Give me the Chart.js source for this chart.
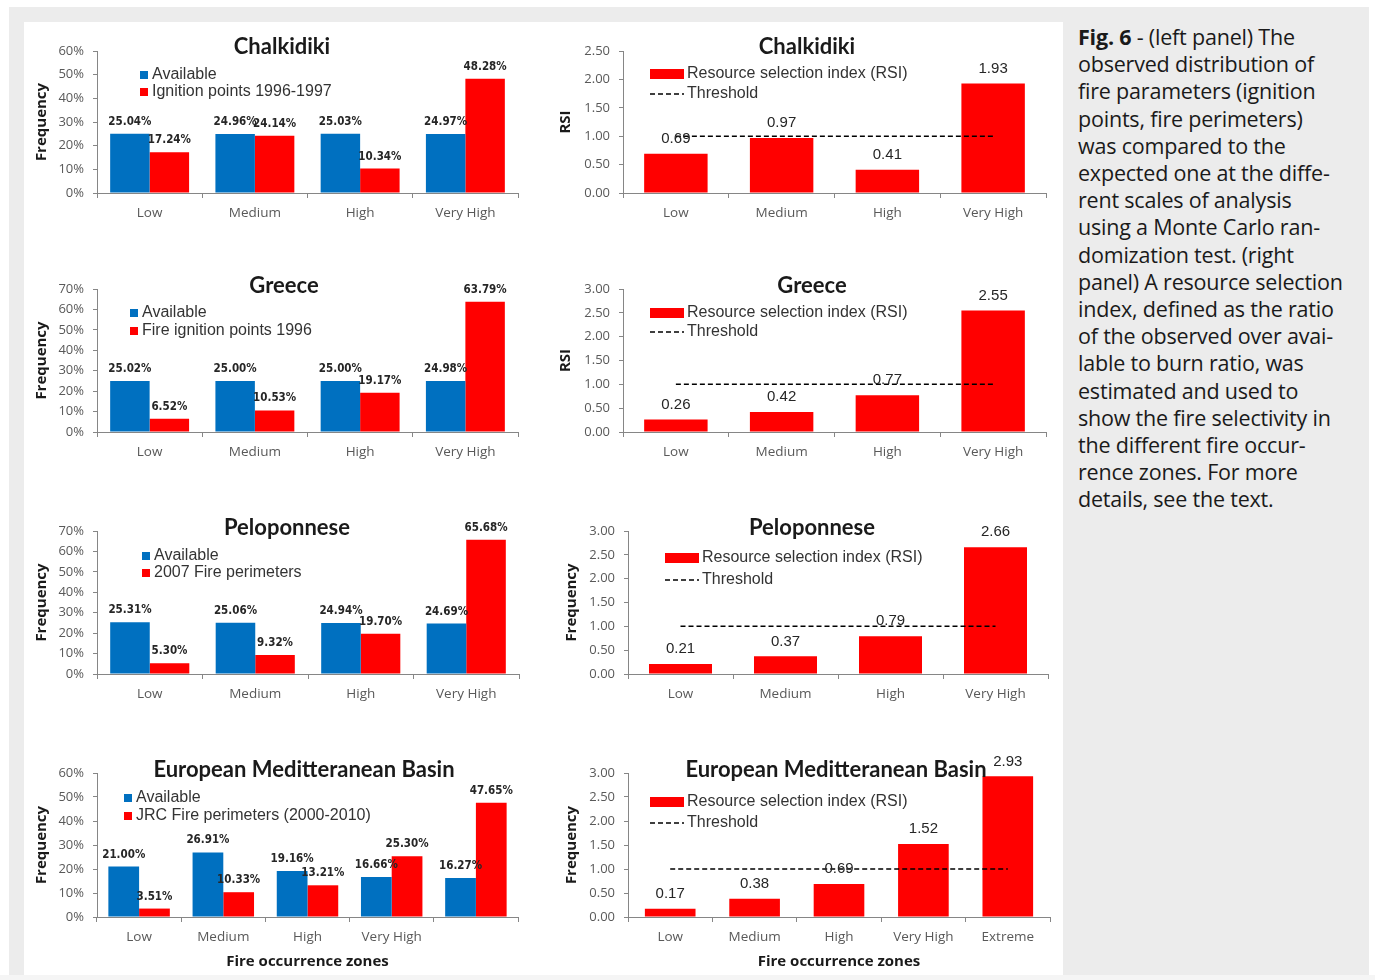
<!DOCTYPE html>
<html>
<head>
<meta charset="utf-8">
<script src="https://cdn.jsdelivr.net/npm/chart.js@4.4.1/dist/chart.umd.min.js"></script>
<style>
  body { margin: 0; width: 1375px; height: 980px; position: relative; overflow: hidden; background: #fff; }
  #frame { position: absolute; left: 9px; top: 7px; width: 1360px; height: 968px; background: #ececec; }
  #bottom { position: absolute; left: 0; top: 975px; width: 1375px; height: 5px; background: #f5f5f5; }
  #panel { position: absolute; left: 24px; top: 22px; width: 1039px; height: 953px; background: #fff; }
  canvas { position: absolute; }
  #caption { position: absolute; left: 1078px; top: 23px; font: 21.5px "Open Sans", sans-serif; line-height: 27.2px; color: #1a1a1a; white-space: nowrap; letter-spacing: -0.2px; }
</style>
</head>
<body>
<div id="frame"></div>
<div id="bottom"></div>
<div id="panel"></div>
<canvas id="c1l"></canvas><canvas id="c1r"></canvas>
<canvas id="c2l"></canvas><canvas id="c2r"></canvas>
<canvas id="c3l"></canvas><canvas id="c3r"></canvas>
<canvas id="c4l"></canvas><canvas id="c4r"></canvas>
<div id="caption"><b>Fig. 6</b> - (left panel) The<br>observed distribution of<br>fire parameters (ignition<br>points, fire perimeters)<br>was compared to the<br>expected one at the diffe-<br>rent scales of analysis<br>using a Monte Carlo ran-<br>domization test. (right<br>panel) A resource selection<br>index, defined as the ratio<br>of the observed over avai-<br>lable to burn ratio, was<br>estimated and used to<br>show the fire selectivity in<br>the different fire occur-<br>rence zones. For more<br>details, see the text.</div>
<script>
// categories
var zones = ['Low', 'Medium', 'High', 'Very High'];
var zonesEmb = ['Low', 'Medium', 'High', 'Very High', ''];
var zonesEmbRsi = ['Low', 'Medium', 'High', 'Very High', 'Extreme'];

// tick labels
var ticksPct60 = ['0%', '10%', '20%', '30%', '40%', '50%', '60%'];
var ticksPct70 = ['0%', '10%', '20%', '30%', '40%', '50%', '60%', '70%'];
var ticksRsi250 = ['0.00', '0.50', '1.00', '1.50', '2.00', '2.50'];
var ticksRsi300 = ['0.00', '0.50', '1.00', '1.50', '2.00', '2.50', '3.00'];

// Chalkidiki
var chalkAvailable = [25.04, 24.96, 25.03, 24.97];
var chalkIgnition = [17.24, 24.14, 10.34, 48.28];
var chalkRsi = [0.69, 0.97, 0.41, 1.93];
// Greece
var greeceAvailable = [25.02, 25.00, 25.00, 24.98];
var greeceIgnition = [6.52, 10.53, 19.17, 63.79];
var greeceRsi = [0.26, 0.42, 0.77, 2.55];
// Peloponnese
var pelopAvailable = [25.31, 25.06, 24.94, 24.69];
var pelopPerimeters = [5.30, 9.32, 19.70, 65.68];
var pelopRsi = [0.21, 0.37, 0.79, 2.66];
// European Meditteranean Basin
var embAvailable = [21.00, 26.91, 19.16, 16.66, 16.27];
var embPerimeters = [3.51, 10.33, 13.21, 25.30, 47.65];
var embRsi = [0.17, 0.38, 0.69, 1.52, 2.93];

var threshold = 1.00;

var BLUE = '#0070c0';
var RED = '#ff0000';
var GREY = '#595959';
var AXIS = '#868686';

// titles, legends and value labels drawn on top of the plot
var decor = {
    id: 'decor',
    afterDatasetsDraw: function (chart, args, o) {
        var ctx = chart.ctx;
        ctx.save();
        // value labels
        chart.data.datasets.forEach(function (ds, i) {
            if (ds.type === 'line') return;
            chart.getDatasetMeta(i).data.forEach(function (bar, j) {
                ctx.font = o.labelFont;
                ctx.fillStyle = '#262626';
                ctx.textAlign = 'center';
                ctx.textBaseline = 'middle';
                ctx.fillText(o.fmt(ds.data[j]), bar.x, bar.y - o.labelGap);
            });
        });
        // title
        ctx.font = 'bold 22px Lato, sans-serif';
        ctx.fillStyle = '#1a1a1a';
        ctx.textAlign = 'center';
        ctx.textBaseline = 'middle';
        ctx.fillText(o.title, o.titleX, o.titleY);
        // legend
        ctx.font = '16px "Liberation Sans", Arial, sans-serif';
        ctx.textAlign = 'left';
        o.legend.forEach(function (it) {
            var ds = chart.data.datasets[it.ds];
            if (it.kind === 'square') {
                ctx.fillStyle = ds.backgroundColor;
                ctx.fillRect(it.x, it.y - 4, 8, 8);
                ctx.fillStyle = '#333';
                ctx.fillText(ds.label, it.x + 12, it.y);
            } else if (it.kind === 'bar') {
                ctx.fillStyle = ds.backgroundColor;
                ctx.fillRect(it.x, it.y - 5, 34, 10);
                ctx.fillStyle = '#333';
                ctx.fillText(ds.label, it.x + 37, it.y);
            } else {
                ctx.strokeStyle = '#000';
                ctx.lineWidth = 1.5;
                ctx.setLineDash([5, 3]);
                ctx.beginPath();
                ctx.moveTo(it.x, it.y);
                ctx.lineTo(it.x + 34, it.y);
                ctx.stroke();
                ctx.setLineDash([]);
                ctx.fillStyle = '#333';
                ctx.fillText(ds.label, it.x + 37, it.y);
            }
        });
        ctx.restore();
    }
};

function build(id, box, plot, c) {
    var cv = document.getElementById(id);
    cv.width = box.w;
    cv.height = box.h;
    cv.style.left = box.x + 'px';
    cv.style.top = box.y + 'px';
    var yW = plot.l - box.x;
    var xH = box.y + box.h - plot.b;
    var legend = c.legend.map(function (it) {
        return { ds: it.ds, kind: it.kind, x: it.x - box.x, y: it.y - box.y };
    });
    new Chart(cv, {
        type: 'bar',
        data: { labels: c.labels, datasets: c.datasets },
        options: {
            responsive: false,
            animation: false,
            layout: { padding: { top: plot.t - box.y, right: box.x + box.w - plot.r, bottom: 0, left: 0 } },
            plugins: {
                legend: { display: false },
                tooltip: { enabled: false },
                decor: {
                    title: c.title, titleX: c.titleX - box.x, titleY: c.titleY - box.y,
                    legend: legend, fmt: c.fmt, labelFont: c.labelFont, labelGap: c.labelGap
                }
            },
            scales: {
                x: {
                    grid: { display: true, drawOnChartArea: false, drawTicks: true, tickLength: 5, color: AXIS, offset: true },
                    border: { color: AXIS },
                    ticks: { color: GREY, padding: 7, font: { family: '"Open Sans", sans-serif', size: 13.5 } },
                    title: {
                        display: !!c.xTitle, text: c.xTitle || '', color: '#1a1a1a',
                        font: { family: '"Open Sans", sans-serif', size: 15, weight: 'bold' }
                    },
                    afterFit: function (s) { s.height = xH; }
                },
                y: {
                    min: 0,
                    max: c.max,
                    grid: { display: true, drawOnChartArea: false, drawTicks: true, tickLength: 4, color: AXIS },
                    border: { color: AXIS },
                    ticks: {
                        stepSize: c.step, color: GREY, padding: 9,
                        font: { family: '"Open Sans", sans-serif', size: 13 },
                        callback: function (v, i) { return c.ticks[i]; }
                    },
                    title: {
                        display: true, text: c.yTitle, color: '#1a1a1a',
                        font: { family: '"Open Sans", sans-serif', size: 15, weight: 'bold' }
                    },
                    afterFit: function (s) { s.width = yW; }
                }
            }
        },
        plugins: [decor]
    });
}

function pctSets(avail, observed, label, cp) {
    return [
        { label: 'Available', data: avail, backgroundColor: BLUE, categoryPercentage: cp, barPercentage: 1 },
        { label: label, data: observed, backgroundColor: RED, categoryPercentage: cp, barPercentage: 1 }
    ];
}

function rsiSets(rsi, labels) {
    return [
        { type: 'line', label: 'Threshold', data: labels.map(function () { return threshold; }),
          borderColor: '#000', borderWidth: 1.5, borderDash: [5, 3], pointRadius: 0, order: 0 },
        { label: 'Resource selection index (RSI)', data: rsi, backgroundColor: RED,
          categoryPercentage: 0.6, barPercentage: 1, order: 1 }
    ];
}

var pctFmt = function (v) { return v.toFixed(2) + '%'; };
var rsiFmt = function (v) { return v.toFixed(2); };
var pctFont = 'bold 11.5px "Liberation Sans Narrow", "DejaVu Sans Condensed", sans-serif';
var rsiFont = '15px "Liberation Sans", Arial, sans-serif';

// left panel
build('c1l', { x: 29, y: 24, w: 501, h: 204 }, { l: 97, r: 518, t: 51, b: 193 }, {
    labels: zones, datasets: pctSets(chalkAvailable, chalkIgnition, 'Ignition points 1996-1997', 0.75),
    max: 60, step: 10, ticks: ticksPct60, yTitle: 'Frequency',
    title: 'Chalkidiki', titleX: 282, titleY: 47,
    legend: [{ ds: 0, kind: 'square', x: 140, y: 75 }, { ds: 1, kind: 'square', x: 140, y: 92 }],
    fmt: pctFmt, labelFont: pctFont, labelGap: 12
});
build('c2l', { x: 29, y: 262, w: 501, h: 204 }, { l: 97, r: 518, t: 289, b: 432 }, {
    labels: zones, datasets: pctSets(greeceAvailable, greeceIgnition, 'Fire ignition points 1996', 0.75),
    max: 70, step: 10, ticks: ticksPct70, yTitle: 'Frequency',
    title: 'Greece', titleX: 284, titleY: 286,
    legend: [{ ds: 0, kind: 'square', x: 130, y: 313 }, { ds: 1, kind: 'square', x: 130, y: 331 }],
    fmt: pctFmt, labelFont: pctFont, labelGap: 12
});
build('c3l', { x: 29, y: 504, w: 501, h: 204 }, { l: 97, r: 519, t: 531, b: 674 }, {
    labels: zones, datasets: pctSets(pelopAvailable, pelopPerimeters, '2007 Fire perimeters', 0.75),
    max: 70, step: 10, ticks: ticksPct70, yTitle: 'Frequency',
    title: 'Peloponnese', titleX: 287, titleY: 528,
    legend: [{ ds: 0, kind: 'square', x: 142, y: 556 }, { ds: 1, kind: 'square', x: 142, y: 573 }],
    fmt: pctFmt, labelFont: pctFont, labelGap: 12
});
build('c4l', { x: 29, y: 746, w: 501, h: 229 }, { l: 97, r: 518, t: 773, b: 917 }, {
    labels: zonesEmb, datasets: pctSets(embAvailable, embPerimeters, 'JRC Fire perimeters (2000-2010)', 0.73),
    max: 60, step: 10, ticks: ticksPct60, yTitle: 'Frequency', xTitle: 'Fire occurrence zones',
    title: 'European Meditteranean Basin', titleX: 304, titleY: 770,
    legend: [{ ds: 0, kind: 'square', x: 124, y: 798 }, { ds: 1, kind: 'square', x: 124, y: 816 }],
    fmt: pctFmt, labelFont: pctFont, labelGap: 12
});

// right panel
build('c1r', { x: 553, y: 24, w: 507, h: 204 }, { l: 623, r: 1046, t: 51, b: 193 }, {
    labels: zones, datasets: rsiSets(chalkRsi, zones),
    max: 2.5, step: 0.5, ticks: ticksRsi250, yTitle: 'RSI',
    title: 'Chalkidiki', titleX: 807, titleY: 47,
    legend: [{ ds: 1, kind: 'bar', x: 650, y: 74 }, { ds: 0, kind: 'dash', x: 650, y: 94 }],
    fmt: rsiFmt, labelFont: rsiFont, labelGap: 15
});
build('c2r', { x: 553, y: 262, w: 507, h: 204 }, { l: 623, r: 1046, t: 289, b: 432 }, {
    labels: zones, datasets: rsiSets(greeceRsi, zones),
    max: 3, step: 0.5, ticks: ticksRsi300, yTitle: 'RSI',
    title: 'Greece', titleX: 812, titleY: 286,
    legend: [{ ds: 1, kind: 'bar', x: 650, y: 313 }, { ds: 0, kind: 'dash', x: 650, y: 332 }],
    fmt: rsiFmt, labelFont: rsiFont, labelGap: 15
});
build('c3r', { x: 559, y: 504, w: 501, h: 204 }, { l: 628, r: 1048, t: 531, b: 674 }, {
    labels: zones, datasets: rsiSets(pelopRsi, zones),
    max: 3, step: 0.5, ticks: ticksRsi300, yTitle: 'Frequency',
    title: 'Peloponnese', titleX: 812, titleY: 528,
    legend: [{ ds: 1, kind: 'bar', x: 665, y: 558 }, { ds: 0, kind: 'dash', x: 665, y: 580 }],
    fmt: rsiFmt, labelFont: rsiFont, labelGap: 15
});
build('c4r', { x: 559, y: 746, w: 501, h: 229 }, { l: 628, r: 1050, t: 773, b: 917 }, {
    labels: zonesEmbRsi, datasets: rsiSets(embRsi, zonesEmbRsi),
    max: 3, step: 0.5, ticks: ticksRsi300, yTitle: 'Frequency', xTitle: 'Fire occurrence zones',
    title: 'European Meditteranean Basin', titleX: 836, titleY: 770,
    legend: [{ ds: 1, kind: 'bar', x: 650, y: 802 }, { ds: 0, kind: 'dash', x: 650, y: 823 }],
    fmt: rsiFmt, labelFont: rsiFont, labelGap: 15
});
</script>
</body>
</html>
